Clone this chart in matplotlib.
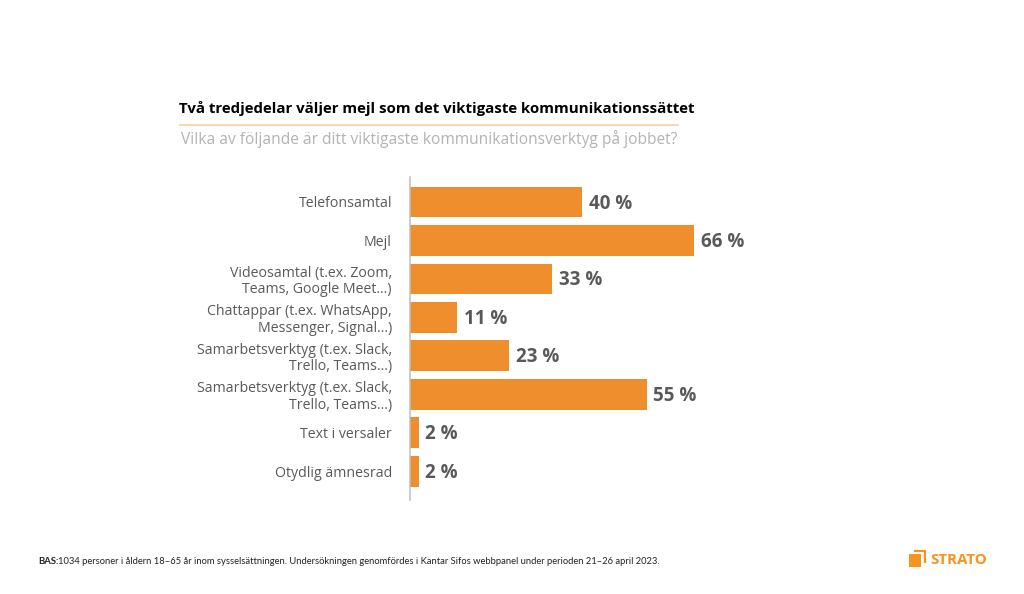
import matplotlib
matplotlib.use("Agg")
import matplotlib.pyplot as plt
from matplotlib.patches import Rectangle

categories = [
    "Telefonsamtal",
    "Mejl",
    "Videosamtal (t.ex. Zoom,\nTeams, Google Meet...)",
    "Chattappar (t.ex. WhatsApp,\nMessenger, Signal...)",
    "Samarbetsverktyg (t.ex. Slack,\nTrello, Teams...)",
    "Samarbetsverktyg (t.ex. Slack,\nTrello, Teams...)",
    "Text i versaler",
    "Otydlig ämnesrad",
]
values = [40, 66, 33, 11, 23, 55, 2, 2]

W, H = 1024, 594
orange = "#EF8E2C"
grey = "#595959"

plt.rcParams['font.family'] = ['Open Sans', 'DejaVu Sans']

fig = plt.figure(figsize=(W / 100, H / 100), dpi=100, facecolor="white")


# helper, pixels from top left of the picture to figure fraction
def fx(px):
    return px / W


def fy(py):
    return 1 - py / H


ax = fig.add_axes([fx(410), fy(500), (760 - 410) / W, (500 - 177) / H])
ax.barh(range(len(values)), values, height=0.8, color=orange)
ax.set_ylim(7.75, -0.65)
ax.set_xlim(0, 350 / 4.3)
ax.set_yticks(range(len(categories)))
ax.set_yticklabels(categories, fontsize=10.2, color=grey, linespacing=1.13)
ax.tick_params(axis="y", length=0, pad=13)
ax.set_xticks([])
for side in ["top", "right", "bottom"]:
    ax.spines[side].set_visible(False)
ax.spines["left"].set_color("#BFBFBF")
ax.spines["left"].set_linewidth(1.1)

for i, v in enumerate(values):
    ax.text(v + 1.6, i + 0.04, f"{v} %", va="center", ha="left", fontsize=13.5,
            fontweight="bold", color=grey)

fig.text(fx(179), fy(108), "Två tredjedelar väljer mejl som det viktigaste kommunikationssättet",
         fontsize=10.8, fontweight="bold", color="black", va="center", ha="left")
fig.add_artist(plt.Line2D([fx(180), fx(678)], [fy(125), fy(125)], color="#F9CFA3", lw=1.2))
fig.text(fx(181), fy(139), "Vilka av följande är ditt viktigaste kommunikationsverktyg på jobbet?",
         fontsize=11.2, color="#B3B3B3", va="center", ha="left")

# footer
fig.text(fx(38), fy(561), "BAS:", fontsize=6.8, fontweight="bold", color="#222222",
         family="Lato", va="center", ha="left")
fig.text(fx(58), fy(561),
         "1034 personer i åldern 18–65 år inom sysselsättningen. Undersökningen genomfördes i "
         "Kantar Sifos webbpanel under perioden 21–26 april 2023.",
         fontsize=6.75, color="#222222", family="Lato", va="center", ha="left")

# logo
logo = "#F7941D"
fig.add_artist(Rectangle((fx(909), fy(567)), 12 / W, 13 / H, color=logo, lw=0, transform=fig.transFigure))
fig.add_artist(plt.Line2D([fx(915), fx(925), fx(925)], [fy(550.5), fy(550.5), fy(562)], color=logo, lw=1.6))
fig.text(fx(930), fy(560), "STRATO", fontsize=10.9, fontweight="bold", color=logo, va="center", ha="left")

fig.savefig("out.png", dpi=100)
